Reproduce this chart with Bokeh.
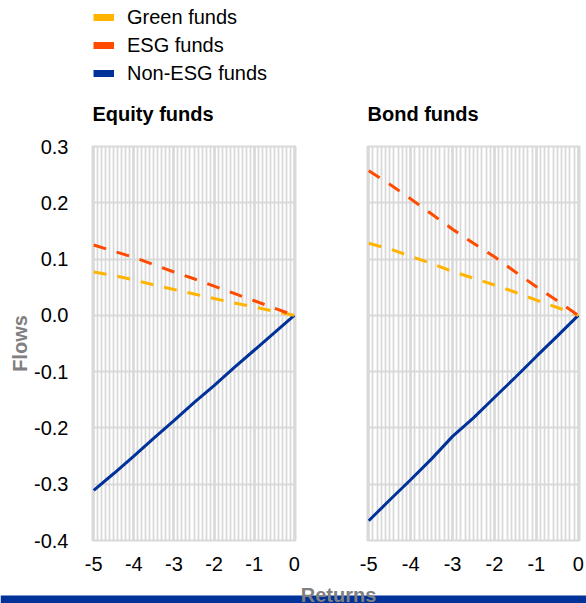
from bokeh.plotting import figure
from bokeh.layouts import column, row
from bokeh.models import (Legend, LegendItem, NumeralTickFormatter,
                          FixedTicker, Range1d, Label, BoxAnnotation)
from bokeh.embed import file_html
from bokeh.resources import INLINE

# ---- data ----
returns = [-5.0, -4.5, -4.0, -3.5, -3.0, -2.5, -2.0, -1.5, -1.0, -0.5, 0.0]
equity_green = [0.077, 0.071, 0.063, 0.054, 0.046, 0.038, 0.030, 0.022, 0.015, 0.007, 0.0]
equity_esg = [0.125, 0.114, 0.103, 0.090, 0.077, 0.065, 0.052, 0.039, 0.026, 0.013, 0.0]
equity_non = [-0.311, -0.281, -0.250, -0.218, -0.187, -0.155, -0.125, -0.093, -0.062, -0.031, 0.0]
bond_green = [0.128, 0.118, 0.105, 0.092, 0.078, 0.066, 0.054, 0.041, 0.027, 0.014, 0.0]
bond_esg = [0.257, 0.233, 0.207, 0.180, 0.153, 0.128, 0.104, 0.077, 0.051, 0.026, 0.0]
bond_non = [-0.365, -0.328, -0.292, -0.255, -0.215, -0.182, -0.146, -0.110, -0.073, -0.037, 0.0]

y_ticks = [-0.4, -0.3, -0.2, -0.1, 0.0, 0.1, 0.2, 0.3]
x_ticks = [-5, -4, -3, -2, -1, 0]

series_names = ["Green funds", "ESG funds", "Non-ESG funds"]
panel_titles = ["Equity funds", "Bond funds"]
y_label = "Flows"
x_label = "Returns"

C_GREEN = "#FFB400"
C_ESG = "#FF4B00"
C_NON = "#003299"
GRID = "#d9d9d9"
FONT = "Liberation Sans"
FS = "20px"

TOP_H = 130


def make_panel(green, esg, non, width, bl, br, show_y):
    p = figure(width=width, height=583 - TOP_H, x_range=Range1d(-5.03, 0.03),
               y_range=Range1d(-0.4, 0.3), output_backend="svg",
               toolbar_location=None, min_border_left=bl, min_border_right=br,
               min_border_top=146 - TOP_H, min_border_bottom=43)
    p.outline_line_color = GRID
    p.outline_line_width = 2

    p.xaxis.ticker = FixedTicker(ticks=x_ticks,
                                 minor_ticks=[round(-5 + 0.1 * i, 1) for i in range(51)])
    p.xaxis.formatter = NumeralTickFormatter(format="0")
    p.yaxis.ticker = FixedTicker(ticks=y_ticks)
    p.yaxis.formatter = NumeralTickFormatter(format="0.0")
    for ax in (p.xaxis, p.yaxis):
        ax.axis_line_color = None
        ax.major_tick_line_color = None
        ax.minor_tick_line_color = None
        ax.major_label_text_font = FONT
        ax.major_label_text_font_size = FS
        ax.major_label_text_color = "#000000"
    p.xaxis.major_label_standoff = 10
    p.yaxis.major_label_standoff = 18

    p.xgrid.grid_line_color = GRID
    p.xgrid.grid_line_width = 2.5
    p.xgrid.minor_grid_line_color = GRID
    p.xgrid.minor_grid_line_width = 1.8
    p.ygrid.grid_line_color = GRID
    p.ygrid.grid_line_width = 2

    if show_y:
        p.yaxis.axis_label = y_label
        p.yaxis.axis_label_text_font = FONT
        p.yaxis.axis_label_text_font_size = FS
        p.yaxis.axis_label_text_font_style = "bold"
        p.yaxis.axis_label_text_color = "#808080"
        p.yaxis.axis_label_standoff = 0
    else:
        p.yaxis.visible = False

    p.line(returns, non, line_color=C_NON, line_width=3)
    p.line(returns, green, line_color=C_GREEN, line_width=3, line_dash="13 11")
    p.line(returns, esg, line_color=C_ESG, line_width=3, line_dash="13 11")
    return p


p1 = make_panel(equity_green, equity_esg, equity_non, 330, 92, 35, True)
p2 = make_panel(bond_green, bond_esg, bond_non, 256, 37, 7, False)

# top strip with the legend (solid swatches) and panel titles;
# the legend renderers' data lie outside this strip's ranges
p0 = figure(width=586, height=TOP_H, x_range=Range1d(10, 11), y_range=Range1d(10, 11),
            output_backend="svg", toolbar_location=None, min_border=0)
p0.axis.visible = False
p0.grid.visible = False
p0.outline_line_color = None
items = []
for name, col, ys in zip(series_names, [C_GREEN, C_ESG, C_NON],
                         [equity_green, equity_esg, equity_non]):
    r = p0.line(returns, ys, line_color=col, line_width=7)
    items.append(LegendItem(label=name, renderers=[r]))
legend = Legend(items=items, location=(93, TOP_H - 85), orientation="vertical",
                glyph_width=21, glyph_height=24, label_height=24, spacing=4,
                label_standoff=13, padding=0, margin=0, border_line_color=None,
                background_fill_alpha=0, label_text_font=FONT,
                label_text_font_size=FS, label_text_color="#000000")
p0.add_layout(legend, "center")
for title, tx in zip(panel_titles, [92, 367]):
    p0.add_layout(Label(x=tx, y=17, x_units="screen", y_units="screen",
                        text=title, text_align="left", text_baseline="alphabetic",
                        text_font=FONT, text_font_size=FS, text_font_style="bold",
                        text_color="#000000"))

# bottom strip with x label and blue bar
p3 = figure(width=586, height=20, x_range=Range1d(0, 1), y_range=Range1d(0, 1),
            output_backend="svg", toolbar_location=None, min_border=0)
p3.axis.visible = False
p3.grid.visible = False
p3.outline_line_color = None
p3.add_layout(BoxAnnotation(bottom=0, top=8, bottom_units="screen", top_units="screen",
                            fill_color=C_NON, fill_alpha=1, line_color=None))
p3.add_layout(Label(x=338, y=20, x_units="screen", y_units="screen", text=x_label,
                    text_align="center", text_baseline="top",
                    text_font=FONT, text_font_size=FS, text_font_style="bold",
                    text_color="#808080"))

layout = column(p0, row(p1, p2, spacing=0), p3, spacing=0)
open("out.html", "w").write(file_html(layout, INLINE))
